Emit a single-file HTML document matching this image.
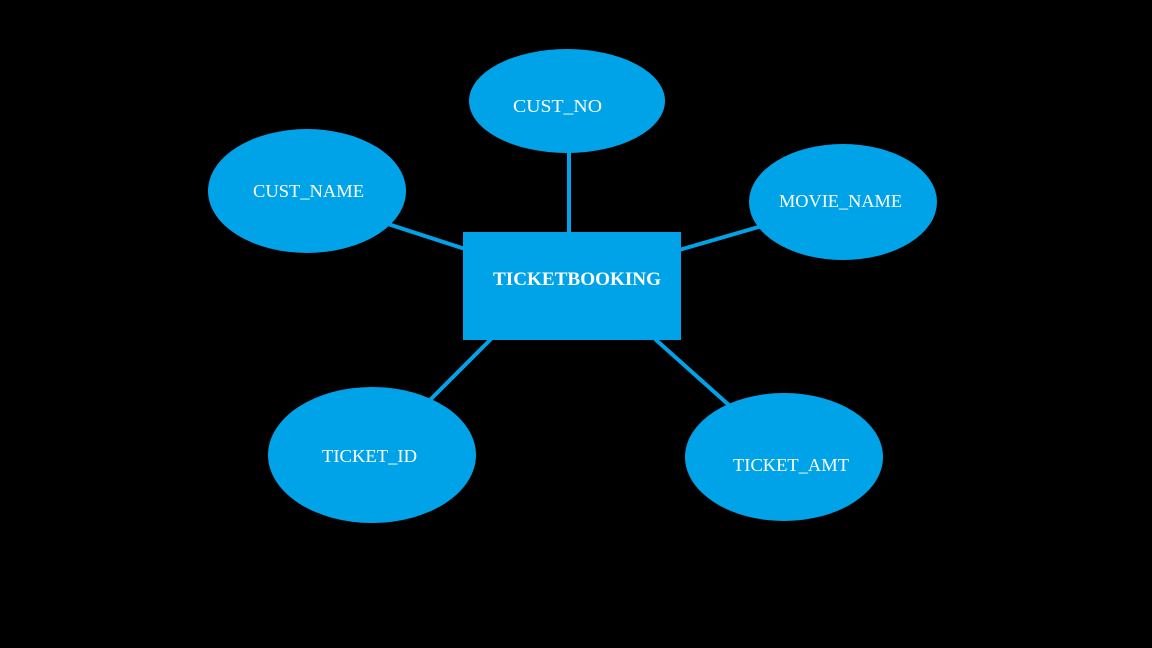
<!DOCTYPE html>
<html><head><style>html,body{margin:0;padding:0;background:#000;}svg{display:block}</style></head>
<body>
<svg width="1152" height="648" xmlns="http://www.w3.org/2000/svg">
<rect width="1152" height="648" fill="#000"/>
<g stroke="#00A3E8" stroke-width="4">
<line x1="569" y1="150" x2="569" y2="234"/>
<line x1="388" y1="224" x2="465" y2="249"/>
<line x1="679" y1="250" x2="762" y2="226"/>
<line x1="491" y1="339" x2="430" y2="400"/>
<line x1="655" y1="339" x2="730" y2="406"/>
</g>
<g fill="#00A3E8">
<ellipse cx="567" cy="101" rx="98" ry="52"/>
<ellipse cx="307" cy="191" rx="99" ry="62"/>
<ellipse cx="843" cy="202" rx="94" ry="58"/>
<ellipse cx="372" cy="455" rx="104" ry="68"/>
<ellipse cx="784" cy="457" rx="99" ry="64"/>
<rect x="463" y="232" width="218" height="108"/>
</g>
<g fill="#fff" font-family="Liberation Serif, serif" font-size="18">
<text x="513" y="112" textLength="89" lengthAdjust="spacingAndGlyphs">CUST_NO</text>
<text x="253" y="197" textLength="111" lengthAdjust="spacingAndGlyphs">CUST_NAME</text>
<text x="779" y="207" textLength="123" lengthAdjust="spacingAndGlyphs">MOVIE_NAME</text>
<text x="322" y="462" textLength="95" lengthAdjust="spacingAndGlyphs">TICKET_ID</text>
<text x="733" y="471" textLength="116" lengthAdjust="spacingAndGlyphs">TICKET_AMT</text>
<text x="493" y="285" font-weight="bold" font-size="19" textLength="168" lengthAdjust="spacingAndGlyphs">TICKETBOOKING</text>
</g>
</svg>
</body></html>
